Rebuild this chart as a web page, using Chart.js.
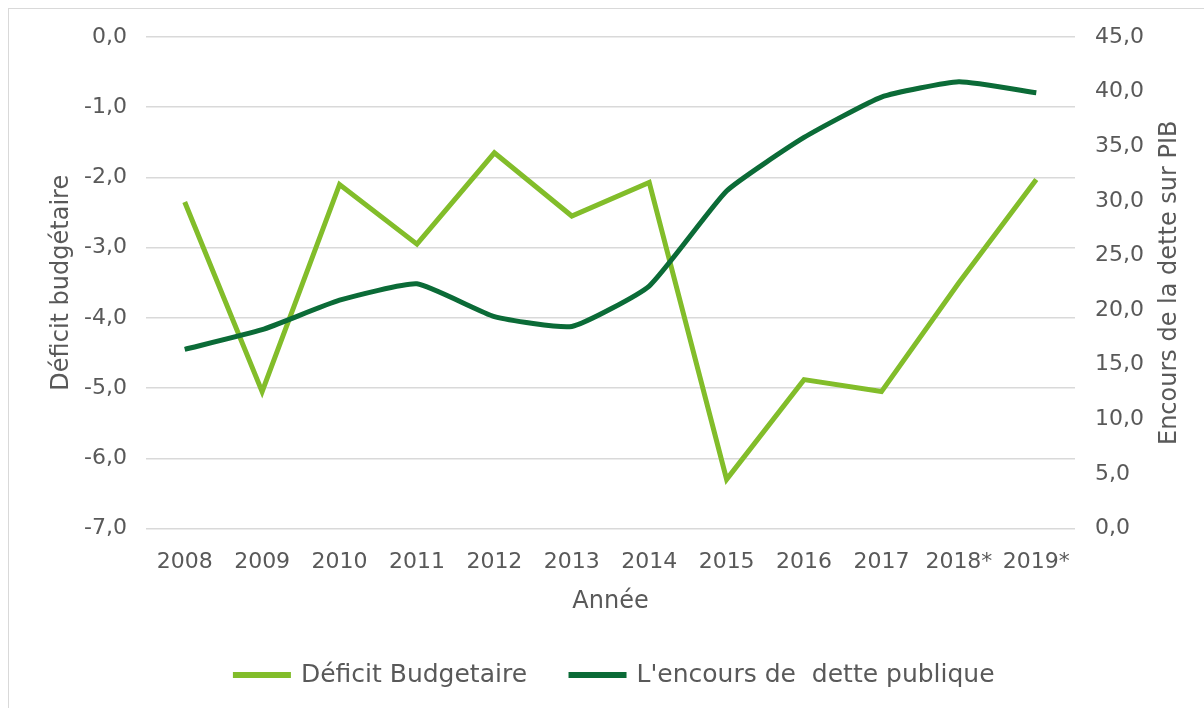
<!DOCTYPE html>
<html lang="fr">
<head>
<meta charset="utf-8">
<title>Déficit budgétaire et encours de la dette</title>
<script src="https://cdn.jsdelivr.net/npm/chart.js@4.4.1/dist/chart.umd.min.js"></script>
<style>
  html, body { margin: 0; padding: 0; background: #ffffff; }
  body { width: 1204px; height: 708px; position: relative; overflow: hidden; }
  .frame {
    position: absolute; left: 8px; top: 8px; width: 1210px; height: 720px;
    border-top: 1.5px solid #d9d9d9; border-left: 1.5px solid #d9d9d9;
  }
  canvas { position: absolute; left: 0; top: 0; }
</style>
</head>
<body>
<div class="frame"></div>
<canvas id="chart" width="1204" height="708"></canvas>
<script>
// Years on the horizontal axis (* = estimates)
const years = ['2008', '2009', '2010', '2011', '2012', '2013', '2014', '2015', '2016', '2017', '2018*', '2019*'];

// Budget deficit, % of GDP (left axis)
const deficitBudgetaire = [-2.35, -5.05, -2.1, -2.95, -1.65, -2.55, -2.07, -6.3, -4.88, -5.05, -3.5, -2.03];

// Public debt outstanding, % of GDP (right axis)
const encoursDette = [16.4, 18.2, 20.9, 22.4, 19.4, 18.5, 22.2, 30.9, 35.8, 39.5, 40.9, 39.9];

// Axis bounds
const deficitRange = { min: -7, max: 0, step: 1 };
const detteRange = { min: 0, max: 45, step: 5 };

const labelNames = {
  deficit: 'Déficit Budgetaire',
  dette: "L'encours de  dette publique",
  xTitle: 'Année',
  yLeftTitle: 'Déficit budgétaire',
  yRightTitle: 'Encours de la dette sur PIB'
};

const textColor = '#595959';
const gridColor = '#d9d9d9';
const fontFamily = '"DejaVu Sans", Verdana, sans-serif';
const fmt = v => v.toFixed(1).replace('.', ',');

// Right-hand axis title, written bottom-to-top like the left one
const rightTitlePlugin = {
  id: 'rightTitle',
  afterDraw(chart) {
    const { ctx, chartArea } = chart;
    ctx.save();
    ctx.translate(1170, (chartArea.top + chartArea.bottom) / 2);
    ctx.rotate(-Math.PI / 2);
    ctx.fillStyle = textColor;
    ctx.font = '24px ' + fontFamily;
    ctx.textAlign = 'center';
    ctx.textBaseline = 'middle';
    ctx.fillText(labelNames.yRightTitle, 0, 0);
    ctx.restore();
  }
};

new Chart(document.getElementById('chart'), {
  type: 'line',
  data: {
    labels: years,
    datasets: [
      {
        label: labelNames.deficit,
        data: deficitBudgetaire,
        yAxisID: 'y',
        borderColor: '#82bd2a',
        backgroundColor: '#82bd2a',
        borderWidth: 5,
        pointRadius: 0,
        tension: 0,
        order: 1
      },
      {
        label: labelNames.dette,
        data: encoursDette,
        yAxisID: 'y1',
        borderColor: '#0b6b37',
        backgroundColor: '#0b6b37',
        borderWidth: 5,
        pointRadius: 0,
        tension: 0.15,
        order: 0
      }
    ]
  },
  plugins: [rightTitlePlugin],
  options: {
    responsive: false,
    animation: false,
    devicePixelRatio: 1,
    layout: { padding: { left: 26, right: 0, top: 37, bottom: 10.5 } },
    plugins: {
      tooltip: { enabled: false },
      legend: {
        position: 'bottom',
        labels: {
          color: textColor,
          font: { family: fontFamily, size: 25 },
          boxWidth: 53,
          boxHeight: 1,
          padding: 44,
          sort: (a, b) => a.datasetIndex - b.datasetIndex
        }
      }
    },
    scales: {
      x: {
        offset: true,
        grid: { display: false, drawTicks: false },
        border: { display: false },
        ticks: {
          color: textColor,
          font: { family: fontFamily, size: 22 },
          padding: 21,
          maxRotation: 0,
          autoSkip: false
        },
        title: {
          display: true,
          text: labelNames.xTitle,
          color: textColor,
          font: { family: fontFamily, size: 24 },
          padding: { top: 0, bottom: 2.6 }
        },
        afterFit: s => { s.height = 90; }
      },
      y: {
        position: 'left',
        min: deficitRange.min,
        max: deficitRange.max,
        grid: { color: gridColor, lineWidth: 1.5, drawTicks: false },
        border: { display: false },
        ticks: {
          stepSize: deficitRange.step,
          color: textColor,
          font: { family: fontFamily, size: 22 },
          padding: 19,
          callback: v => fmt(v)
        },
        title: {
          display: true,
          text: labelNames.yLeftTitle,
          color: textColor,
          font: { family: fontFamily, size: 24 },
          padding: { top: 21.6, bottom: 0 }
        },
        afterFit: s => { s.width = 120; }
      },
      y1: {
        position: 'right',
        min: detteRange.min,
        max: detteRange.max,
        grid: { drawOnChartArea: false, drawTicks: false },
        border: { display: false },
        ticks: {
          stepSize: detteRange.step,
          color: textColor,
          font: { family: fontFamily, size: 22 },
          padding: 20,
          callback: v => fmt(v)
        },
        title: { display: false },
        afterFit: s => { s.width = 129; }
      }
    }
  }
});
</script>
</body>
</html>
